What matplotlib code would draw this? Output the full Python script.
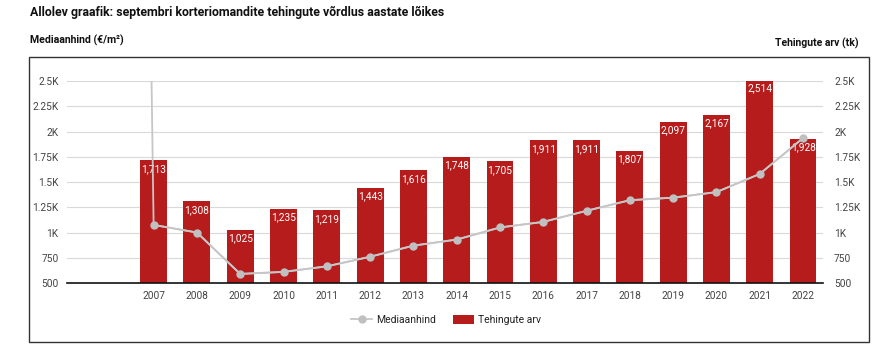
import matplotlib.pyplot as plt
from matplotlib.patches import Rectangle
from matplotlib.ticker import FuncFormatter, FixedLocator
import numpy as np

plt.rcParams['font.family'] = ['Roboto', 'DejaVu Sans']

RED = '#b71c1c'
GREY = '#c6c6c6'
TEXT = '#444444'

# september deals per year (tk) and median price (EUR/m2)
years = ['2007', '2008', '2009', '2010', '2011', '2012', '2013', '2014',
         '2015', '2016', '2017', '2018', '2019', '2020', '2021', '2022']
deals = [1713, 1308, 1025, 1235, 1219, 1443, 1616, 1748,
         1705, 1911, 1911, 1807, 2097, 2167, 2514, 1928]
# the price series starts one year earlier (2006), far above the axis range
price_2006 = 31000
price = [1075, 1000, 590, 610, 665, 760, 870, 930,
         1050, 1105, 1215, 1320, 1345, 1400, 1580, 1935]

fig = plt.figure(figsize=(8.96, 3.49), dpi=100)
fig.patch.set_facecolor('white')

fig.text(0.034, 0.965, 'Allolev graafik: septembri korteriomandite tehingute võrdlus aastate lõikes',
         ha='left', va='center', fontsize=8.9, fontweight='bold', color='#111111')
fig.text(0.034, 0.884, 'Mediaanhind (€/m²)', ha='left', va='center',
         fontsize=7.6, fontweight='bold', color='#111111')
fig.text(0.958, 0.877, 'Tehingute arv (tk)', ha='right', va='center',
         fontsize=7.5, fontweight='bold', color='#111111')

# frame around the chart block
fig.patches.append(Rectangle((0.0324, 0.0201), 0.9376, 0.8166, transform=fig.transFigure,
                             fill=False, edgecolor='#333333', linewidth=1.0))

ax = fig.add_axes([0.0748, 0.1891, 0.8437, 0.5788])
x = np.arange(len(years))

bars = ax.bar(x, deals, width=0.62, color=RED, zorder=2, label='Tehingute arv')
for xi, v in zip(x, deals):
    ax.text(xi, v - 35, f'{v:,}', ha='center', va='top', color='white',
            fontsize=7.3, zorder=3)

ax.plot(np.r_[-1, x], [price_2006] + price, color=GREY, lw=1.3, zorder=4)
ax.plot(x, price, color=GREY, lw=1.3, marker='o', markersize=5,
        markerfacecolor='#c0c0c0', markeredgecolor='#c0c0c0', zorder=5,
        label='Mediaanhind')

ax.set_xlim(-2.0, len(years) - 0.54)
ax.set_ylim(500, 2500)

ticks = [500, 750, 1000, 1250, 1500, 1750, 2000, 2250, 2500]
fmt = FuncFormatter(lambda v, p: f'{v/1000:g}K' if v >= 1000 else f'{v:g}')
ax.yaxis.set_major_locator(FixedLocator(ticks))
ax.yaxis.set_major_formatter(fmt)
ax.grid(axis='y', color='#d9d9d9', lw=0.8, zorder=0)
ax.set_axisbelow(True)
ax.set_xticks(x)
ax.set_xticklabels(years)
ax.tick_params(axis='x', length=0, pad=6, labelsize=7.3, labelcolor=TEXT)
ax.tick_params(axis='y', length=0, pad=6, labelsize=7.3, labelcolor=TEXT)
for s in ['top', 'left', 'right']:
    ax.spines[s].set_visible(False)
ax.spines['bottom'].set_color('#111111')
ax.spines['bottom'].set_linewidth(1.2)

ax2 = ax.twinx()
ax2.set_ylim(ax.get_ylim())
ax2.yaxis.set_major_locator(FixedLocator(ticks))
ax2.yaxis.set_major_formatter(fmt)
ax2.tick_params(axis='y', length=0, pad=8, labelsize=7.3, labelcolor=TEXT)
for s in ax2.spines.values():
    s.set_visible(False)

h, l = ax.get_legend_handles_labels()
order = [l.index('Mediaanhind'), l.index('Tehingute arv')]
fig.legend([h[i] for i in order], [l[i] for i in order], loc='center',
           bbox_to_anchor=(0.498, 0.083), ncol=2,
           frameon=False, fontsize=7.5, handlelength=2.0, handleheight=1.0,
           columnspacing=1.6, handletextpad=0.4, labelcolor='#222222')

fig.savefig('out.png', dpi=100, facecolor='white')
